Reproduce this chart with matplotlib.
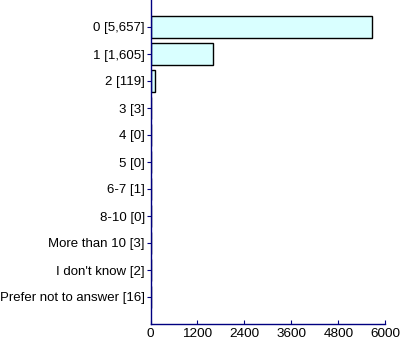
import matplotlib
matplotlib.use("Agg")
import matplotlib.pyplot as plt
import numpy as np

plt.rcParams["font.family"] = ["Liberation Sans", "DejaVu Sans"]

categories = ["0", "1", "2", "3", "4", "5", "6-7", "8-10",
              "More than 10", "I don't know", "Prefer not to answer"]
counts = [5657, 1605, 119, 3, 0, 0, 1, 0, 3, 2, 16]
x_ticks = [0, 1200, 2400, 3600, 4800, 6000]

axis_color = "#000080"

fig = plt.figure(figsize=(4.0, 3.42), dpi=100)
ax = fig.add_axes([150.5 / 400, 1 - 324 / 342, (385.3 - 150.5) / 400, 324 / 342])

y = np.arange(1, len(categories) + 1)
ax.barh(y, counts, height=0.85, color="#D9FFFF", edgecolor="black", linewidth=1.0)

labels = [f"{c} [{n:,}]" for c, n in zip(categories, counts)]
ax.set_yticks(y)
ax.set_yticklabels(labels, fontsize=9.5)
ax.set_ylim(len(categories) + 1, 0)

ax.set_xticks(x_ticks)
ax.set_xticklabels([str(t) for t in x_ticks], fontsize=9.7)
ax.set_xlim(0, 6000)

for side in ("top", "right"):
    ax.spines[side].set_visible(False)
for side in ("left", "bottom"):
    ax.spines[side].set_color(axis_color)
    ax.spines[side].set_linewidth(1.0)

ax.tick_params(axis="y", direction="out", length=3, color=axis_color, pad=1)
ax.tick_params(axis="x", direction="in", length=3, color=axis_color, pad=3)

fig.savefig("out.png", dpi=100)
